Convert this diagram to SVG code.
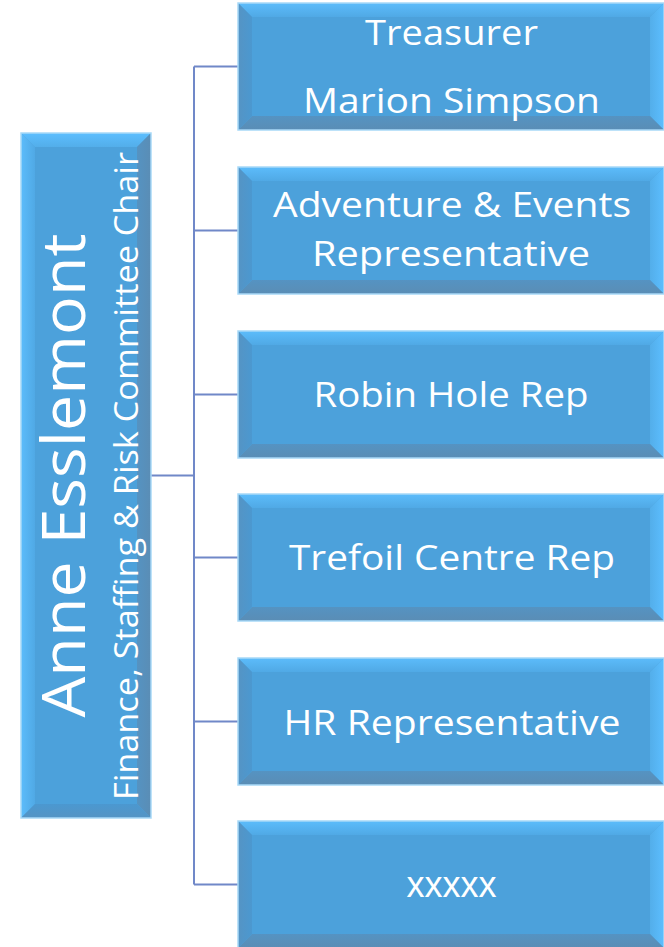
<svg xmlns="http://www.w3.org/2000/svg" xmlns:xlink="http://www.w3.org/1999/xlink" width="664" height="947" viewBox="0 0 664 947">
<style>
.lbl{font-family:"Open Sans","Liberation Sans",sans-serif;font-size:34px;fill:#ffffff;text-anchor:middle}
.xx{font-family:"Liberation Sans",Arial,sans-serif;font-size:36px;fill:#ffffff;text-anchor:middle}
.conn{stroke:#7088c8;stroke-width:2;fill:none}
.base{fill:#4ca1db}
.edge{fill:none;stroke:#a8d9f7;stroke-width:1.5}
</style>
<defs>
<linearGradient id="gTop" x1="0" y1="0" x2="0" y2="1"><stop offset="0" stop-color="#5cbcfb"/><stop offset="1" stop-color="#50a9e5"/></linearGradient>
<linearGradient id="gRight" x1="1" y1="0" x2="0" y2="0"><stop offset="0" stop-color="#5cbeff"/><stop offset="1" stop-color="#53aeea"/></linearGradient>
<linearGradient id="gBot" x1="0" y1="1" x2="0" y2="0"><stop offset="0" stop-color="#5a8db5"/><stop offset="1" stop-color="#5593c2"/></linearGradient>
<linearGradient id="gLeft" x1="0" y1="0" x2="1" y2="0"><stop offset="0" stop-color="#5594c4"/><stop offset="1" stop-color="#4b98d0"/></linearGradient>
<g id="boxH">
<rect class="base" x="0" y="0" width="426" height="127"/>
<polygon fill="url(#gTop)" points="0,0 426,0 412,14 14,14"/>
<polygon fill="url(#gRight)" points="426,0 426,127 412,113 412,14"/>
<polygon fill="url(#gBot)" points="0,127 426,127 412,113 14,113"/>
<polygon fill="url(#gLeft)" points="0,0 14,14 14,113 0,127"/>
<rect class="edge" x="0" y="0" width="426" height="127"/>
</g>
<linearGradient id="vLeft" x1="0" y1="0" x2="1" y2="0"><stop offset="0" stop-color="#5cbcfb"/><stop offset="1" stop-color="#50a9e5"/></linearGradient>
<linearGradient id="vTop" x1="0" y1="0" x2="0" y2="1"><stop offset="0" stop-color="#5cbeff"/><stop offset="1" stop-color="#53aeea"/></linearGradient>
<linearGradient id="vRight" x1="1" y1="0" x2="0" y2="0"><stop offset="0" stop-color="#5a8db5"/><stop offset="1" stop-color="#5593c2"/></linearGradient>
<linearGradient id="vBot" x1="0" y1="1" x2="0" y2="0"><stop offset="0" stop-color="#5594c4"/><stop offset="1" stop-color="#4b98d0"/></linearGradient>
</defs>

<g id="connectors">
<line class="conn" x1="151" y1="475.5" x2="194" y2="475.5"/>
<line class="conn" x1="194" y1="66.5" x2="194" y2="884.5"/>
<line class="conn" x1="194" y1="66.5" x2="238" y2="66.5"/>
<line class="conn" x1="194" y1="230.5" x2="238" y2="230.5"/>
<line class="conn" x1="194" y1="394.5" x2="238" y2="394.5"/>
<line class="conn" x1="194" y1="557.5" x2="238" y2="557.5"/>
<line class="conn" x1="194" y1="721.5" x2="238" y2="721.5"/>
<line class="conn" x1="194" y1="884.5" x2="238" y2="884.5"/>
</g>

<g id="chair">
<rect class="base" x="21" y="133" width="130" height="685"/>
<polygon fill="url(#vLeft)" points="21,133 35,147 35,804 21,818"/>
<polygon fill="url(#vTop)" points="21,133 151,133 137,147 35,147"/>
<polygon fill="url(#vRight)" points="151,133 151,818 137,804 137,147"/>
<polygon fill="url(#vBot)" points="21,818 151,818 137,804 35,804"/>
<rect class="edge" x="21" y="133" width="130" height="685"/>
<text class="lbl" style="font-size:60px" transform="translate(85,475.5) rotate(-90)" textLength="484" lengthAdjust="spacingAndGlyphs">Anne Esslemont</text>
<text class="lbl" style="font-size:32px" transform="translate(138,476) rotate(-90)" textLength="648" lengthAdjust="spacingAndGlyphs">Finance, Staffing &amp; Risk Committee Chair</text>
</g>

<g id="treasurer">
<use xlink:href="#boxH" x="238" y="3"/>
<text class="lbl" x="451.5" y="45" textLength="173" lengthAdjust="spacingAndGlyphs">Treasurer</text>
<text class="lbl" x="451.5" y="113" textLength="297" lengthAdjust="spacingAndGlyphs">Marion Simpson</text>
</g>

<g id="adventure">
<use xlink:href="#boxH" x="238" y="167"/>
<text class="lbl" x="452" y="217" textLength="358" lengthAdjust="spacingAndGlyphs">Adventure &amp; Events</text>
<text class="lbl" x="451" y="266" textLength="278" lengthAdjust="spacingAndGlyphs">Representative</text>
</g>

<g id="robinhole">
<use xlink:href="#boxH" x="238" y="331"/>
<text class="lbl" x="451" y="407" textLength="275" lengthAdjust="spacingAndGlyphs">Robin Hole Rep</text>
</g>

<g id="trefoil">
<use xlink:href="#boxH" x="238" y="494"/>
<text class="lbl" x="452" y="570" textLength="326" lengthAdjust="spacingAndGlyphs">Trefoil Centre Rep</text>
</g>

<g id="hr">
<use xlink:href="#boxH" x="238" y="658"/>
<text class="lbl" x="452" y="735" textLength="337" lengthAdjust="spacingAndGlyphs">HR Representative</text>
</g>

<g id="xxxxx">
<use xlink:href="#boxH" x="238" y="821"/>
<text class="xx" x="451.5" y="897">xxxxx</text>
</g>
</svg>
